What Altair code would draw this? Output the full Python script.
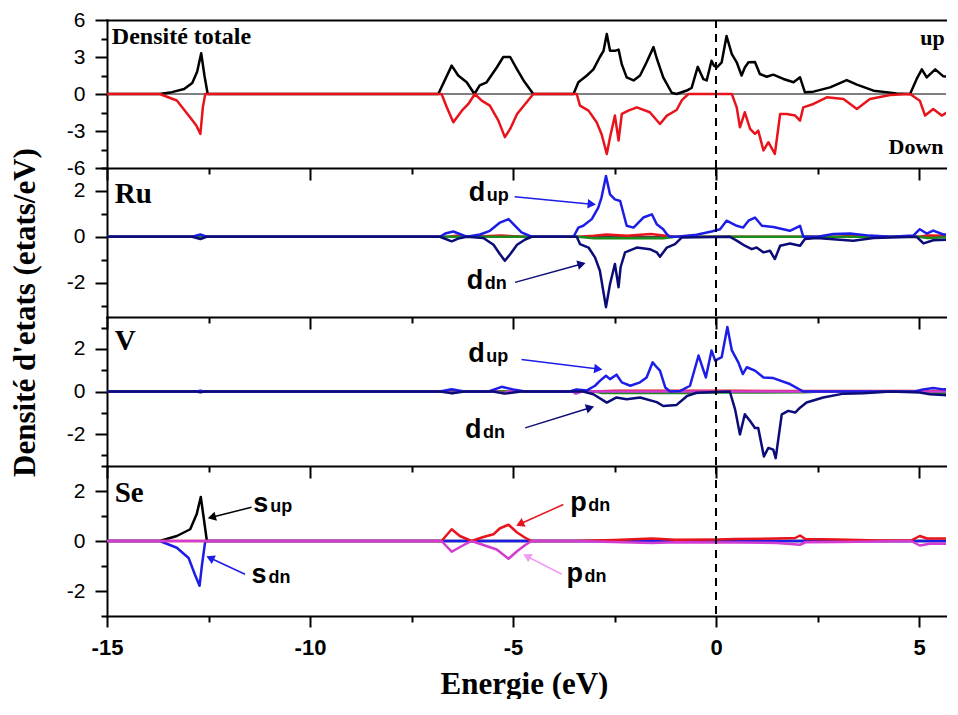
import math
import altair as alt
import pandas as pd

# ---------------- axes / layout values ----------------
XMIN, XMAX = -15, 5.665
X_MAJOR = [-15, -10, -5, 0, 5]
X_MINOR = [-12.5, -7.5, -2.5, 2.5]
PLOT_W = 839
PANEL_H = [148, 149, 149, 150]
Y_DOM = [[-6, 6], [-3.5, 3], [-3.5, 3.5], [-3, 3]]
Y_MAJOR = [[-6, -3, 0, 3, 6], [-2, 0, 2], [-2, 0, 2], [-2, 0, 2]]
Y_MINOR = [[-4.5, -1.5, 1.5, 4.5], [-3, -1, 1, 3], [-3, -1, 1, 3], [-3, -1, 1, 3]]

BLACK = "#000000"
RED = "#e8141c"
BLUE = "#1d1de8"
NAVY = "#0c0c78"
GREEN = "#1b8c1b"
MAGENTA = "#d23cd2"
PINK = "#f09cf0"

# ---------------- data: (energy eV, DOS) ----------------
TOT_UP = [(-15, 0), (-13.7, 0), (-13.4, 0.15), (-13.1, 0.4), (-12.9, 0.9), (-12.78, 1.8), (-12.68, 3.3),
          (-12.6, 1.5), (-12.52, 0), (-6.84, 0), (-6.51, 2.3), (-6.35, 1.5), (-6.14, 0.95), (-5.95, 0),
          (-5.82, 0.7), (-5.65, 0.95), (-5.4, 2.15), (-5.24, 3.0), (-5.07, 3.0), (-4.9, 2.0), (-4.74, 1.1),
          (-4.5, 0), (-3.51, 0), (-3.39, 0.95), (-3.18, 1.5), (-3.02, 2.0), (-2.86, 3.0), (-2.77, 3.5),
          (-2.69, 4.86), (-2.61, 3.5), (-2.49, 3.5), (-2.4, 3.6), (-2.32, 2.4), (-2.2, 1.35), (-2.03, 1.1),
          (-1.87, 1.5), (-1.71, 2.57), (-1.54, 3.8), (-1.46, 2.9), (-1.3, 1.35), (-1.09, 0.1), (-0.97, 0),
          (-0.72, 0.28), (-0.6, 0.5), (-0.45, 2.2), (-0.31, 1.2), (-0.23, 1.1), (-0.11, 2.7), (-0.05, 2.3),
          (0.02, 2.15), (0.14, 2.57), (0.26, 4.7), (0.39, 3.24), (0.51, 2.57), (0.63, 1.5), (0.71, 2.15),
          (0.8, 2.57), (0.96, 2.6), (1.08, 1.62), (1.25, 1.4), (1.41, 1.57), (1.66, 1.22), (1.91, 0.95),
          (2.07, 1.35), (2.19, 0.14), (2.4, 0.19), (2.81, 0.54), (3.22, 1.13), (3.47, 0.76), (3.88, 0.27),
          (4.45, 0.05), (4.78, 0), (4.94, 1.2), (5.07, 2.0), (5.19, 1.35), (5.4, 2.0), (5.6, 1.43), (5.88, 1.35)]
TOT_DN = [(-15, 0), (-13.7, 0), (-13.28, -0.53), (-12.95, -1.9), (-12.8, -2.56), (-12.7, -3.24), (-12.64, -1.1),
          (-12.58, 0), (-6.76, 0), (-6.63, -1.08), (-6.47, -2.29), (-6.26, -1.35), (-6.1, -0.81), (-5.94, 0),
          (-5.77, -0.54), (-5.57, -0.94), (-5.36, -2.16), (-5.2, -3.5), (-5.07, -2.83), (-4.9, -1.62),
          (-4.7, -0.81), (-4.5, 0), (-3.43, 0), (-3.35, -0.94), (-3.14, -1.35), (-2.94, -2.29), (-2.82, -3.24),
          (-2.69, -4.86), (-2.61, -3.5), (-2.49, -1.75), (-2.4, -3.77), (-2.32, -1.62), (-2.16, -1.35),
          (-1.95, -1.08), (-1.63, -1.48), (-1.38, -2.43), (-1.21, -1.75), (-0.97, -1.3), (-0.84, -0.5),
          (-0.68, 0), (0.39, 0), (0.51, -1.08), (0.59, -2.7), (0.71, -1.48), (0.84, -2.83), (0.96, -3.24),
          (1.04, -2.97), (1.17, -4.58), (1.29, -3.91), (1.45, -4.86), (1.58, -1.62), (1.74, -1.62),
          (1.95, -1.75), (2.07, -2.16), (2.15, -1.08), (2.4, -0.81), (2.73, -0.27), (3.14, -0.4),
          (3.47, -1.21), (3.79, -0.4), (4.29, -0.08), (4.78, 0), (5.02, -0.54), (5.15, -1.75), (5.35, -1.21),
          (5.56, -1.75), (5.76, -1.35), (5.88, -1.08)]

RU_DUP = [(-15, 0), (-12.9, 0), (-12.7, 0.1), (-12.55, 0), (-6.8, 0), (-6.67, 0.14), (-6.47, 0.23), (-6.14, 0),
          (-5.81, 0.1), (-5.57, 0.26), (-5.32, 0.62), (-5.11, 0.77), (-4.99, 0.55), (-4.79, 0.19), (-4.54, 0),
          (-3.51, 0), (-3.39, 0.4), (-3.27, 0.48), (-3.06, 0.77), (-2.9, 1.27), (-2.82, 1.71), (-2.71, 2.65),
          (-2.61, 1.85), (-2.49, 1.63), (-2.36, 1.56), (-2.2, 0.48), (-2.03, 0.4), (-1.79, 0.84), (-1.58, 0.98),
          (-1.46, 0.55), (-1.3, 0.33), (-1.21, 0.11), (-1.13, 0), (-0.97, 0), (-0.48, 0.09), (-0.11, 0.23),
          (0.1, 0.33), (0.26, 0.7), (0.51, 0.48), (0.67, 0.4), (0.8, 0.7), (0.96, 0.84), (1.13, 0.48),
          (1.41, 0.43), (1.82, 0.26), (2.07, 0.48), (2.15, 0), (2.5, 0), (2.89, 0.12), (3.3, 0.14),
          (3.79, 0.05), (4.3, 0), (4.86, 0.05), (5.02, 0.33), (5.19, 0.14), (5.35, 0.27), (5.6, 0.1), (5.88, 0.1)]
RU_DDN = [(-15, 0), (-12.9, 0), (-12.7, -0.1), (-12.55, 0), (-6.8, 0), (-6.51, -0.2), (-6.35, -0.08), (-6.14, 0),
          (-5.73, -0.05), (-5.48, -0.35), (-5.32, -0.76), (-5.2, -1.05), (-5.07, -0.76), (-4.9, -0.35),
          (-4.7, -0.12), (-4.54, 0), (-3.43, 0), (-3.35, -0.32), (-3.14, -0.47), (-2.98, -0.9), (-2.86, -1.48),
          (-2.71, -3.07), (-2.61, -2.06), (-2.49, -1.19), (-2.4, -2.2), (-2.35, -1.33), (-2.24, -0.68),
          (-1.95, -0.47), (-1.63, -0.54), (-1.46, -0.68), (-1.38, -0.87), (-1.21, -0.47), (-1.01, -0.32),
          (-0.84, -0.03), (0.34, 0), (0.51, -0.17), (0.71, -0.39), (0.88, -0.54), (1.0, -0.47), (1.17, -0.68),
          (1.33, -0.61), (1.45, -0.97), (1.58, -0.39), (1.82, -0.29), (2.07, -0.39), (2.19, -0.1),
          (2.48, -0.05), (3.38, -0.17), (3.88, -0.05), (4.94, 0), (5.11, -0.29), (5.35, -0.15), (5.88, -0.12)]
RU_OTHER_UP = [(-15, 0), (-6.6, 0), (-6.4, 0.05), (-6.0, 0), (-5.3, 0.05), (-4.7, 0), (-3.4, 0), (-3.0, 0.05),
               (-2.7, 0.1), (-2.2, 0.04), (-1.6, 0.12), (-1.2, 0.03), (-1.0, 0), (3.0, 0), (3.3, 0.05),
               (3.8, 0), (5.0, 0), (5.2, 0.06), (5.88, 0.03)]
RU_OTHER_DN = [(-15, 0), (-3.4, 0), (-3.0, -0.06), (-2.0, -0.07), (-1.3, -0.06), (-1.0, 0), (5.0, 0),
               (5.2, -0.05), (5.88, 0)]

V_DUP = [(-15, 0), (-12.8, 0), (-12.7, 0.04), (-12.6, 0), (-6.8, 0), (-6.51, 0.11), (-6.2, 0), (-5.6, 0),
         (-5.28, 0.22), (-5.0, 0.1), (-4.7, 0), (-3.6, 0), (-3.44, 0.1), (-3.18, 0.05), (-2.98, 0.27),
         (-2.86, 0.5), (-2.71, 0.74), (-2.61, 0.58), (-2.45, 0.79), (-2.32, 0.43), (-2.11, 0.27), (-1.87, 0.43),
         (-1.71, 0.66), (-1.56, 1.37), (-1.46, 1.14), (-1.38, 0.98), (-1.25, 0.19), (-1.13, 0), (-0.89, 0.02),
         (-0.64, 0.27), (-0.43, 1.69), (-0.25, 0.66), (-0.11, 1.93), (-0.02, 1.45), (0.14, 1.61), (0.28, 3.03),
         (0.39, 1.93), (0.55, 1.37), (0.66, 0.82), (0.76, 1.14), (0.96, 0.98), (1.17, 0.66), (1.41, 0.63),
         (1.82, 0.35), (2.15, 0), (4.9, 0), (5.1, 0.1), (5.35, 0.16), (5.6, 0.1), (5.88, 0.12)]
V_DDN = [(-15, 0), (-12.8, 0), (-12.7, -0.04), (-12.6, 0), (-6.8, 0), (-6.5, -0.08), (-6.2, 0), (-5.5, 0),
         (-5.2, -0.1), (-4.8, 0), (-3.27, 0), (-3.02, -0.13), (-2.69, -0.52), (-2.45, -0.28), (-2.2, -0.36),
         (-1.87, -0.28), (-1.46, -0.5), (-1.3, -0.68), (-0.97, -0.63), (-0.72, -0.22), (-0.48, -0.06),
         (0.34, 0), (0.47, -0.84), (0.59, -2.02), (0.71, -1.07), (0.84, -1.39), (0.96, -1.71), (1.04, -1.71),
         (1.18, -3.05), (1.29, -2.65), (1.41, -2.73), (1.47, -3.13), (1.62, -1.07), (1.78, -0.91),
         (1.95, -0.99), (2.07, -0.76), (2.23, -0.52), (2.64, -0.28), (3.14, -0.1), (3.63, -0.08), (4.3, 0),
         (5.02, -0.05), (5.27, -0.13), (5.6, -0.17), (5.88, -0.2)]
V_OTHER_UP = [(-15, 0), (-3.0, 0), (-2.5, 0.04), (-1.0, 0.03), (0.5, 0.03), (1.5, 0.02), (5.88, 0.02)]
V_OTHER_DN = [(-15, 0), (-3.0, 0), (-2.8, -0.07), (-0.5, -0.07), (-0.2, -0.05), (0.2, -0.05), (2.2, -0.04),
              (2.6, 0), (5.0, 0), (5.3, -0.08), (5.88, -0.05)]
V_P = [(-15, 0), (-6.6, 0), (-6.5, -0.08), (-6.35, 0), (-5.4, 0), (-5.25, -0.08), (-5.1, 0), (-3.55, 0),
       (-3.45, -0.1), (-3.3, 0), (5.88, 0)]

SE_SUP = [(-15, 0), (-13.7, 0), (-13.28, 0.2), (-12.95, 0.47), (-12.79, 1.08), (-12.69, 1.76), (-12.62, 0.95),
          (-12.54, 0), (5.88, 0)]
SE_SDN = [(-15, 0), (-13.7, 0), (-13.28, -0.27), (-12.99, -0.68), (-12.83, -1.36), (-12.72, -1.79),
          (-12.66, -0.95), (-12.58, 0), (5.88, 0)]
SE_PUP = [(-15, 0), (-6.76, 0), (-6.51, 0.47), (-6.31, 0.2), (-6.02, 0), (-5.73, 0.16), (-5.48, 0.27),
          (-5.32, 0.51), (-5.11, 0.65), (-4.9, 0.34), (-4.7, 0.13), (-4.54, 0), (-3.5, 0), (-2.5, 0.04),
          (-1.58, 0.1), (-1.0, 0.05), (0.0, 0.06), (0.5, 0.08), (1.5, 0.1), (1.95, 0.12), (2.07, 0.22),
          (2.2, 0.08), (3.0, 0.06), (4.0, 0.02), (4.8, 0.02), (5.02, 0.2), (5.2, 0.1), (5.88, 0.1)]
SE_PDN = [(-15, 0), (-6.76, 0), (-6.51, -0.43), (-6.26, -0.2), (-6.02, 0), (-5.73, -0.16), (-5.4, -0.34),
          (-5.11, -0.71), (-4.9, -0.41), (-4.7, -0.16), (-4.54, 0), (-3.5, 0), (-1.58, -0.08), (-1.0, -0.05),
          (0.5, -0.06), (1.5, -0.08), (2.07, -0.15), (2.2, -0.05), (3.0, -0.04), (4.8, 0), (5.02, -0.18),
          (5.3, -0.1), (5.88, -0.12)]

PANEL_SERIES = [
    [(BLACK, TOT_UP), (RED, TOT_DN)],
    [(RED, RU_OTHER_UP), (GREEN, RU_OTHER_DN), (BLUE, RU_DUP), (NAVY, RU_DDN)],
    [(RED, V_OTHER_UP), (GREEN, V_OTHER_DN), (MAGENTA, V_P), (BLUE, V_DUP), (NAVY, V_DDN)],
    [(BLACK, SE_SUP), (BLUE, SE_SDN), (RED, SE_PUP), (MAGENTA, SE_PDN)],
]

# panel labels: (panel, text, x, y, font size)
PANEL_LABELS = [(0, "Densité totale", -14.88, 4.05, 24), (0, "up", 5.03, 3.94, 22), (0, "Down", 4.25, -4.9, 22),
                (1, "Ru", -14.81, 1.49, 29), (2, "V", -14.81, 1.94, 29), (3, "Se", -14.81, 1.56, 29)]
# orbital annotations: (panel, letter, subscript, x, y, subscript shift px)
ANNOTS = [(1, "d", "up", -6.09, 1.58, 18), (1, "d", "dn", -6.14, -2.28, 18),
          (2, "d", "up", -6.1, 1.37, 18), (2, "d", "dn", -6.18, -2.18, 18),
          (3, "s", "up", -11.4, 1.15, 17), (3, "s", "dn", -11.44, -1.67, 17),
          (3, "p", "dn", -3.59, 1.22, 18), (3, "p", "dn", -3.68, -1.63, 18)]
# arrows: (panel, x0, y0, x1 (head), y1 (head), colour)
ARROWS = [(1, -4.96, 1.75, -3.06, 1.42, BLUE), (1, -4.95, -1.99, -3.31, -1.19, NAVY),
          (2, -4.79, 1.5, -2.9, 1.06, BLUE), (2, -4.7, -1.71, -3.1, -0.76, NAVY),
          (3, -11.44, 1.35, -12.42, 0.95, BLACK), (3, -11.6, -1.33, -12.46, -0.68, BLUE),
          (3, -3.76, 1.46, -4.83, 0.68, RED), (3, -3.8, -1.33, -4.66, -0.61, PINK)]

SERIF = "Liberation Serif"
SANS = "Liberation Sans"
LABEL_EXPR = "'' + datum.value"
AXIS_BASE = dict(grid=False, domainColor=BLACK, domainWidth=2, domainCap="square",
                 tickColor=BLACK, tickWidth=2, labelOverlap=False)
PX_PER_X = PLOT_W / (XMAX - XMIN)


def xs():
    return alt.Scale(domain=[XMIN, XMAX], nice=False, zero=False)


def ys(p):
    return alt.Scale(domain=Y_DOM[p], nice=False, zero=False)


def top_domain():
    return alt.Axis(orient="top", ticks=False, labels=False, domain=True, title=None, **AXIS_BASE)


def bottom_domain():
    return alt.Axis(orient="bottom", ticks=False, labels=False, domain=True, title=None, **AXIS_BASE)


def top_inward(vals, size):
    return alt.Axis(orient="top", values=vals, tickSize=size, offset=-size, domain=False, labels=False,
                    ticks=True, title=None, **AXIS_BASE)


def bottom_labeled():
    return alt.Axis(orient="bottom", values=X_MAJOR, tickSize=11, domain=True, labels=True, ticks=True,
                    labelExpr=LABEL_EXPR, labelFont=SANS, labelFontSize=22, labelFontWeight="bold",
                    labelColor=BLACK, labelPadding=10, labelFlush=False,
                    title="Energie (eV)", titleFont=SERIF, titleFontSize=31, titleFontWeight="bold",
                    titleColor=BLACK, titleX=417, titleY=77, titleAlign="center", titleBaseline="alphabetic",
                    **AXIS_BASE)


def bottom_minor():
    return alt.Axis(orient="bottom", values=X_MINOR, tickSize=6, domain=False, labels=False, ticks=True,
                    title=None, **AXIS_BASE)


def y_major(p, with_title=False):
    if with_title:
        extra = dict(title="Densité d'etats (etats/eV)", titleFont=SERIF, titleFontSize=31,
                     titleFontWeight="bold", titleColor=BLACK, titleAngle=270, titleX=-73, titleY=144,
                     titleAlign="center", titleBaseline="alphabetic")
    else:
        extra = dict(title=None)
    return alt.Axis(orient="left", values=Y_MAJOR[p], tickSize=12, domain=True, labels=True, ticks=True,
                    labelExpr=LABEL_EXPR, labelFont=SANS, labelFontSize=21, labelColor=BLACK,
                    labelPadding=10, **extra, **AXIS_BASE)


def y_minor(p):
    return alt.Axis(orient="left", values=Y_MINOR[p], tickSize=6, domain=False, labels=False, ticks=True,
                    title=None, **AXIS_BASE)


def carrier(p, xaxis, yaxis):
    df = pd.DataFrame({"x": [XMIN], "y": [Y_DOM[p][0]]})
    return alt.Chart(df).mark_point(opacity=0, size=1).encode(
        x=alt.X("x:Q", scale=xs(), axis=xaxis),
        y=alt.Y("y:Q", scale=ys(p), axis=yaxis))


def panel(p):
    layers = []
    # axis carriers
    if p == 0:
        layers.append(carrier(p, top_domain(), y_major(p)))
        layers.append(carrier(p, bottom_domain(), y_minor(p)))
    else:
        layers.append(carrier(p, top_inward(X_MAJOR, 12), y_major(p, with_title=(p == 1))))
        layers.append(carrier(p, top_inward(X_MINOR, 6), y_minor(p)))
        if p == 3:
            layers.append(carrier(p, bottom_labeled(), None))
            layers.append(carrier(p, bottom_minor(), None))
        else:
            layers.append(carrier(p, bottom_domain(), None))

    # zero line
    layers.append(alt.Chart(pd.DataFrame({"y": [0]})).mark_rule(color=BLACK, strokeWidth=1).encode(
        y=alt.Y("y:Q", scale=ys(p), axis=None)))

    # DOS curves
    for color, pts in PANEL_SERIES[p]:
        df = pd.DataFrame(pts, columns=["x", "y"])
        layers.append(alt.Chart(df).mark_line(color=color, strokeWidth=2.5, clip=True,
                                              strokeJoin="round").encode(
            x=alt.X("x:Q", scale=xs(), axis=None),
            y=alt.Y("y:Q", scale=ys(p), axis=None)))

    # Fermi level
    layers.append(alt.Chart(pd.DataFrame({"x": [0]})).mark_rule(
        color=BLACK, strokeWidth=2, strokeDash=[8, 6]).encode(x=alt.X("x:Q", scale=xs(), axis=None)))

    # panel labels
    lab = [(t, x, y, s) for (pp, t, x, y, s) in PANEL_LABELS if pp == p]
    if lab:
        df = pd.DataFrame(lab, columns=["t", "x", "y", "s"])
        layers.append(alt.Chart(df).mark_text(
            align="left", baseline="alphabetic", font=SERIF, fontWeight="bold", color=BLACK, clip=True).encode(
            x=alt.X("x:Q", scale=xs(), axis=None), y=alt.Y("y:Q", scale=ys(p), axis=None),
            text="t:N", size=alt.Size("s:Q", scale=None, legend=None)))

    # arrows
    arr = [a[1:] for a in ARROWS if a[0] == p]
    if arr:
        px_y = PANEL_H[p] / (Y_DOM[p][1] - Y_DOM[p][0])
        rows = []
        for x0, y0, x1, y1, c in arr:
            dx = (x1 - x0) * PX_PER_X
            dy = -(y1 - y0) * px_y
            ang = math.degrees(math.atan2(dx, -dy)) % 360
            rows.append({"x0": x0, "y0": y0, "x1": x1, "y1": y1, "c": c, "a": ang})
        df = pd.DataFrame(rows)
        layers.append(alt.Chart(df).mark_rule(strokeWidth=1.5).encode(
            x=alt.X("x0:Q", scale=xs(), axis=None), y=alt.Y("y0:Q", scale=ys(p), axis=None),
            x2="x1:Q", y2="y1:Q", color=alt.Color("c:N", scale=None)))
        layers.append(alt.Chart(df).mark_point(shape="triangle-up", filled=True, size=90, opacity=1).encode(
            x=alt.X("x1:Q", scale=xs(), axis=None), y=alt.Y("y1:Q", scale=ys(p), axis=None),
            color=alt.Color("c:N", scale=None), angle=alt.Angle("a:Q", scale=None)))

    # orbital annotations (letter + smaller subscript placed just after it)
    ann = [a[1:] for a in ANNOTS if a[0] == p]
    if ann:
        df = pd.DataFrame(ann, columns=["m", "s", "x", "y", "off"])
        df["xs"] = df["x"] + df["off"] / PX_PER_X
        layers.append(alt.Chart(df).mark_text(
            align="left", baseline="alphabetic", font=SANS, fontWeight="bold", fontSize=27, color=BLACK).encode(
            x=alt.X("x:Q", scale=xs(), axis=None), y=alt.Y("y:Q", scale=ys(p), axis=None), text="m:N"))
        layers.append(alt.Chart(df).mark_text(
            align="left", baseline="alphabetic", font=SANS, fontWeight="bold", fontSize=18, color=BLACK).encode(
            x=alt.X("xs:Q", scale=xs(), axis=None), y=alt.Y("y:Q", scale=ys(p), axis=None), text="s:N"))

    return alt.layer(*layers).properties(width=PLOT_W, height=PANEL_H[p]).resolve_axis(
        x="independent", y="independent")


chart = alt.vconcat(*[panel(p) for p in range(4)], spacing=0, bounds="flush").properties(
    padding={"left": 0, "top": 1, "right": 0, "bottom": 0}
).configure_view(stroke=None)

chart.save("out.html", embed_options={"renderer": "svg", "actions": False})
